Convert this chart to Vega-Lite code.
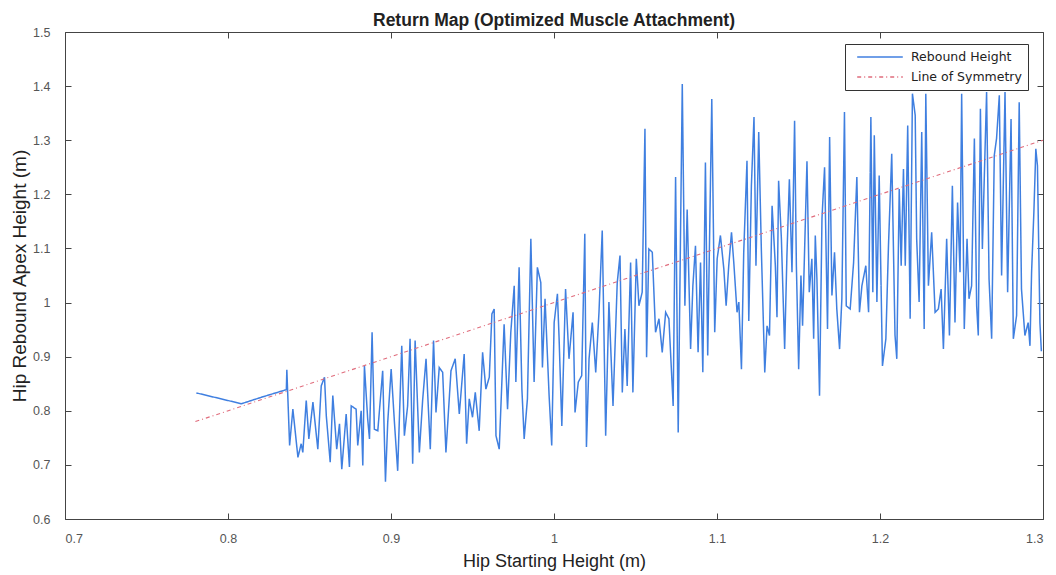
{
  "$schema": "https://vega.github.io/schema/vega-lite/v6.json",
  "width": 978,
  "height": 487,
  "autosize": {"type": "none"},
  "padding": {"left": 65, "top": 32, "right": 13, "bottom": 56},
  "background": "white",
  "title": {"text": "Return Map (Optimized Muscle Attachment)", "font": "Liberation Sans", "fontSize": 17.5, "fontWeight": "bold", "color": "#222222", "offset": -3, "anchor": "middle"},
  "config": {
    "view": {"stroke": "#444444", "strokeWidth": 1},
    "axis": {"grid": false, "labelFont": "Liberation Sans", "labelFontSize": 12.5, "labelColor": "#555555", "titleFont": "Liberation Sans", "titleFontWeight": "normal", "titleColor": "#222222", "domain": false, "ticks": true, "tickColor": "#444444", "tickWidth": 1, "tickOpacity": 1, "tickSize": 6, "offset": -6}
  },
  "datasets": {
    "rebound": [
      {"x":0.7806,"y":0.833,"series":"Rebound Height"},{"x":0.8082,"y":0.813,"series":"Rebound Height"},{"x":0.8205,"y":0.825,"series":"Rebound Height"},{"x":0.8358,"y":0.839,"series":"Rebound Height"},{"x":0.8361,"y":0.876,"series":"Rebound Height"},{"x":0.8378,"y":0.736,"series":"Rebound Height"},{"x":0.8398,"y":0.803,"series":"Rebound Height"},{"x":0.8429,"y":0.714,"series":"Rebound Height"},{"x":0.8449,"y":0.739,"series":"Rebound Height"},{"x":0.8459,"y":0.723,"series":"Rebound Height"},{"x":0.848,"y":0.819,"series":"Rebound Height"},{"x":0.8496,"y":0.748,"series":"Rebound Height"},{"x":0.8521,"y":0.816,"series":"Rebound Height"},{"x":0.8551,"y":0.729,"series":"Rebound Height"},{"x":0.8572,"y":0.846,"series":"Rebound Height"},{"x":0.8592,"y":0.862,"series":"Rebound Height"},{"x":0.8603,"y":0.791,"series":"Rebound Height"},{"x":0.8627,"y":0.705,"series":"Rebound Height"},{"x":0.8643,"y":0.828,"series":"Rebound Height"},{"x":0.8667,"y":0.729,"series":"Rebound Height"},{"x":0.8684,"y":0.776,"series":"Rebound Height"},{"x":0.8698,"y":0.692,"series":"Rebound Height"},{"x":0.8725,"y":0.794,"series":"Rebound Height"},{"x":0.8745,"y":0.696,"series":"Rebound Height"},{"x":0.8756,"y":0.809,"series":"Rebound Height"},{"x":0.8786,"y":0.803,"series":"Rebound Height"},{"x":0.8796,"y":0.736,"series":"Rebound Height"},{"x":0.8817,"y":0.8,"series":"Rebound Height"},{"x":0.8827,"y":0.699,"series":"Rebound Height"},{"x":0.8837,"y":0.883,"series":"Rebound Height"},{"x":0.8857,"y":0.785,"series":"Rebound Height"},{"x":0.8868,"y":0.748,"series":"Rebound Height"},{"x":0.8884,"y":0.945,"series":"Rebound Height"},{"x":0.8898,"y":0.766,"series":"Rebound Height"},{"x":0.8919,"y":0.763,"series":"Rebound Height"},{"x":0.8949,"y":0.874,"series":"Rebound Height"},{"x":0.8966,"y":0.669,"series":"Rebound Height"},{"x":0.898,"y":0.779,"series":"Rebound Height"},{"x":0.9001,"y":0.877,"series":"Rebound Height"},{"x":0.9021,"y":0.779,"series":"Rebound Height"},{"x":0.9041,"y":0.689,"series":"Rebound Height"},{"x":0.9066,"y":0.92,"series":"Rebound Height"},{"x":0.9082,"y":0.754,"series":"Rebound Height"},{"x":0.9102,"y":0.809,"series":"Rebound Height"},{"x":0.9117,"y":0.933,"series":"Rebound Height"},{"x":0.9133,"y":0.702,"series":"Rebound Height"},{"x":0.9148,"y":0.93,"series":"Rebound Height"},{"x":0.9174,"y":0.723,"series":"Rebound Height"},{"x":0.9194,"y":0.819,"series":"Rebound Height"},{"x":0.9215,"y":0.896,"series":"Rebound Height"},{"x":0.9241,"y":0.729,"series":"Rebound Height"},{"x":0.9261,"y":0.93,"series":"Rebound Height"},{"x":0.9276,"y":0.797,"series":"Rebound Height"},{"x":0.9296,"y":0.88,"series":"Rebound Height"},{"x":0.9317,"y":0.871,"series":"Rebound Height"},{"x":0.9337,"y":0.723,"series":"Rebound Height"},{"x":0.9368,"y":0.874,"series":"Rebound Height"},{"x":0.9394,"y":0.896,"series":"Rebound Height"},{"x":0.9419,"y":0.794,"series":"Rebound Height"},{"x":0.9449,"y":0.905,"series":"Rebound Height"},{"x":0.9464,"y":0.739,"series":"Rebound Height"},{"x":0.948,"y":0.822,"series":"Rebound Height"},{"x":0.95,"y":0.788,"series":"Rebound Height"},{"x":0.9517,"y":0.834,"series":"Rebound Height"},{"x":0.9541,"y":0.763,"series":"Rebound Height"},{"x":0.9562,"y":0.908,"series":"Rebound Height"},{"x":0.9582,"y":0.84,"series":"Rebound Height"},{"x":0.9603,"y":0.862,"series":"Rebound Height"},{"x":0.9619,"y":0.979,"series":"Rebound Height"},{"x":0.9633,"y":0.988,"series":"Rebound Height"},{"x":0.9644,"y":0.754,"series":"Rebound Height"},{"x":0.9664,"y":0.729,"series":"Rebound Height"},{"x":0.9694,"y":0.96,"series":"Rebound Height"},{"x":0.9715,"y":0.803,"series":"Rebound Height"},{"x":0.9735,"y":0.945,"series":"Rebound Height"},{"x":0.9756,"y":1.031,"series":"Rebound Height"},{"x":0.9766,"y":0.853,"series":"Rebound Height"},{"x":0.9786,"y":1.065,"series":"Rebound Height"},{"x":0.9803,"y":0.84,"series":"Rebound Height"},{"x":0.9817,"y":0.748,"series":"Rebound Height"},{"x":0.9837,"y":0.822,"series":"Rebound Height"},{"x":0.9858,"y":1.118,"series":"Rebound Height"},{"x":0.9878,"y":0.853,"series":"Rebound Height"},{"x":0.9898,"y":1.065,"series":"Rebound Height"},{"x":0.9919,"y":1.037,"series":"Rebound Height"},{"x":0.9929,"y":0.88,"series":"Rebound Height"},{"x":0.9945,"y":1.007,"series":"Rebound Height"},{"x":0.997,"y":0.828,"series":"Rebound Height"},{"x":0.9986,"y":0.736,"series":"Rebound Height"},{"x":1.0001,"y":0.963,"series":"Rebound Height"},{"x":1.0021,"y":1.016,"series":"Rebound Height"},{"x":1.0031,"y":0.936,"series":"Rebound Height"},{"x":1.0048,"y":0.772,"series":"Rebound Height"},{"x":1.0071,"y":1.025,"series":"Rebound Height"},{"x":1.0092,"y":0.896,"series":"Rebound Height"},{"x":1.0117,"y":0.982,"series":"Rebound Height"},{"x":1.0129,"y":0.797,"series":"Rebound Height"},{"x":1.0149,"y":0.853,"series":"Rebound Height"},{"x":1.017,"y":0.865,"series":"Rebound Height"},{"x":1.0189,"y":1.127,"series":"Rebound Height"},{"x":1.0199,"y":0.733,"series":"Rebound Height"},{"x":1.0215,"y":0.896,"series":"Rebound Height"},{"x":1.0235,"y":0.963,"series":"Rebound Height"},{"x":1.0256,"y":0.871,"series":"Rebound Height"},{"x":1.0276,"y":0.982,"series":"Rebound Height"},{"x":1.0296,"y":1.133,"series":"Rebound Height"},{"x":1.0317,"y":0.754,"series":"Rebound Height"},{"x":1.0337,"y":1.001,"series":"Rebound Height"},{"x":1.0362,"y":0.809,"series":"Rebound Height"},{"x":1.0388,"y":1.037,"series":"Rebound Height"},{"x":1.0405,"y":1.087,"series":"Rebound Height"},{"x":1.0419,"y":0.834,"series":"Rebound Height"},{"x":1.0435,"y":0.951,"series":"Rebound Height"},{"x":1.0449,"y":0.846,"series":"Rebound Height"},{"x":1.047,"y":1.074,"series":"Rebound Height"},{"x":1.0484,"y":0.834,"series":"Rebound Height"},{"x":1.0505,"y":1.081,"series":"Rebound Height"},{"x":1.0521,"y":0.994,"series":"Rebound Height"},{"x":1.0541,"y":1.019,"series":"Rebound Height"},{"x":1.0558,"y":1.321,"series":"Rebound Height"},{"x":1.0568,"y":0.899,"series":"Rebound Height"},{"x":1.0582,"y":1.099,"series":"Rebound Height"},{"x":1.0603,"y":1.093,"series":"Rebound Height"},{"x":1.0623,"y":0.945,"series":"Rebound Height"},{"x":1.0644,"y":0.97,"series":"Rebound Height"},{"x":1.0664,"y":0.908,"series":"Rebound Height"},{"x":1.0685,"y":0.982,"series":"Rebound Height"},{"x":1.0705,"y":0.97,"series":"Rebound Height"},{"x":1.0731,"y":0.809,"series":"Rebound Height"},{"x":1.0746,"y":1.232,"series":"Rebound Height"},{"x":1.0762,"y":0.76,"series":"Rebound Height"},{"x":1.0787,"y":1.404,"series":"Rebound Height"},{"x":1.0803,"y":0.994,"series":"Rebound Height"},{"x":1.0817,"y":1.172,"series":"Rebound Height"},{"x":1.0838,"y":0.914,"series":"Rebound Height"},{"x":1.0852,"y":1.031,"series":"Rebound Height"},{"x":1.0868,"y":1.105,"series":"Rebound Height"},{"x":1.0884,"y":0.908,"series":"Rebound Height"},{"x":1.0899,"y":1.074,"series":"Rebound Height"},{"x":1.0913,"y":0.871,"series":"Rebound Height"},{"x":1.0929,"y":1.259,"series":"Rebound Height"},{"x":1.0943,"y":0.902,"series":"Rebound Height"},{"x":1.0968,"y":1.376,"series":"Rebound Height"},{"x":1.0986,"y":0.945,"series":"Rebound Height"},{"x":1.1001,"y":1.081,"series":"Rebound Height"},{"x":1.1021,"y":1.124,"series":"Rebound Height"},{"x":1.1042,"y":1.062,"series":"Rebound Height"},{"x":1.1056,"y":0.994,"series":"Rebound Height"},{"x":1.1072,"y":1.068,"series":"Rebound Height"},{"x":1.1089,"y":1.13,"series":"Rebound Height"},{"x":1.1103,"y":1.074,"series":"Rebound Height"},{"x":1.1123,"y":0.982,"series":"Rebound Height"},{"x":1.1134,"y":1.001,"series":"Rebound Height"},{"x":1.115,"y":0.877,"series":"Rebound Height"},{"x":1.1164,"y":1.093,"series":"Rebound Height"},{"x":1.1184,"y":1.262,"series":"Rebound Height"},{"x":1.1195,"y":0.966,"series":"Rebound Height"},{"x":1.1211,"y":1.216,"series":"Rebound Height"},{"x":1.1227,"y":1.343,"series":"Rebound Height"},{"x":1.1239,"y":1.068,"series":"Rebound Height"},{"x":1.1256,"y":1.315,"series":"Rebound Height"},{"x":1.1272,"y":1.099,"series":"Rebound Height"},{"x":1.1293,"y":0.871,"series":"Rebound Height"},{"x":1.1307,"y":0.957,"series":"Rebound Height"},{"x":1.1322,"y":0.939,"series":"Rebound Height"},{"x":1.1338,"y":1.179,"series":"Rebound Height"},{"x":1.1358,"y":1.068,"series":"Rebound Height"},{"x":1.1368,"y":0.973,"series":"Rebound Height"},{"x":1.1378,"y":1.225,"series":"Rebound Height"},{"x":1.1395,"y":1.118,"series":"Rebound Height"},{"x":1.1415,"y":0.914,"series":"Rebound Height"},{"x":1.1429,"y":1.087,"series":"Rebound Height"},{"x":1.1444,"y":1.228,"series":"Rebound Height"},{"x":1.146,"y":1.056,"series":"Rebound Height"},{"x":1.1476,"y":1.336,"series":"Rebound Height"},{"x":1.1487,"y":1.068,"series":"Rebound Height"},{"x":1.1501,"y":0.877,"series":"Rebound Height"},{"x":1.1515,"y":1.05,"series":"Rebound Height"},{"x":1.1525,"y":0.957,"series":"Rebound Height"},{"x":1.1552,"y":1.261,"series":"Rebound Height"},{"x":1.1566,"y":1.019,"series":"Rebound Height"},{"x":1.1582,"y":1.081,"series":"Rebound Height"},{"x":1.1593,"y":0.933,"series":"Rebound Height"},{"x":1.1603,"y":1.124,"series":"Rebound Height"},{"x":1.1613,"y":1.044,"series":"Rebound Height"},{"x":1.1629,"y":0.828,"series":"Rebound Height"},{"x":1.1644,"y":1.155,"series":"Rebound Height"},{"x":1.166,"y":1.25,"series":"Rebound Height"},{"x":1.1678,"y":0.951,"series":"Rebound Height"},{"x":1.1691,"y":1.306,"series":"Rebound Height"},{"x":1.1705,"y":1.013,"series":"Rebound Height"},{"x":1.1721,"y":1.093,"series":"Rebound Height"},{"x":1.1735,"y":0.988,"series":"Rebound Height"},{"x":1.1752,"y":0.914,"series":"Rebound Height"},{"x":1.1766,"y":1.007,"series":"Rebound Height"},{"x":1.1782,"y":1.352,"series":"Rebound Height"},{"x":1.1793,"y":0.994,"series":"Rebound Height"},{"x":1.1817,"y":0.988,"series":"Rebound Height"},{"x":1.1838,"y":1.074,"series":"Rebound Height"},{"x":1.1858,"y":1.232,"series":"Rebound Height"},{"x":1.1874,"y":0.982,"series":"Rebound Height"},{"x":1.1889,"y":1.031,"series":"Rebound Height"},{"x":1.1913,"y":1.068,"series":"Rebound Height"},{"x":1.193,"y":0.982,"series":"Rebound Height"},{"x":1.1944,"y":1.343,"series":"Rebound Height"},{"x":1.1956,"y":1.019,"series":"Rebound Height"},{"x":1.1965,"y":1.309,"series":"Rebound Height"},{"x":1.1981,"y":1.001,"series":"Rebound Height"},{"x":1.1995,"y":1.235,"series":"Rebound Height"},{"x":1.2015,"y":0.883,"series":"Rebound Height"},{"x":1.2036,"y":0.933,"series":"Rebound Height"},{"x":1.2052,"y":1.105,"series":"Rebound Height"},{"x":1.2072,"y":1.275,"series":"Rebound Height"},{"x":1.2092,"y":0.94,"series":"Rebound Height"},{"x":1.2103,"y":0.896,"series":"Rebound Height"},{"x":1.2118,"y":1.21,"series":"Rebound Height"},{"x":1.213,"y":1.068,"series":"Rebound Height"},{"x":1.2144,"y":1.247,"series":"Rebound Height"},{"x":1.2155,"y":1.068,"series":"Rebound Height"},{"x":1.217,"y":1.327,"series":"Rebound Height"},{"x":1.2185,"y":0.97,"series":"Rebound Height"},{"x":1.2199,"y":1.386,"series":"Rebound Height"},{"x":1.2216,"y":1.346,"series":"Rebound Height"},{"x":1.2225,"y":1.118,"series":"Rebound Height"},{"x":1.224,"y":1.001,"series":"Rebound Height"},{"x":1.2256,"y":1.315,"series":"Rebound Height"},{"x":1.2271,"y":0.951,"series":"Rebound Height"},{"x":1.2281,"y":1.386,"series":"Rebound Height"},{"x":1.2297,"y":1.031,"series":"Rebound Height"},{"x":1.2317,"y":1.13,"series":"Rebound Height"},{"x":1.2338,"y":0.982,"series":"Rebound Height"},{"x":1.2358,"y":0.988,"series":"Rebound Height"},{"x":1.2375,"y":1.025,"series":"Rebound Height"},{"x":1.2389,"y":0.914,"series":"Rebound Height"},{"x":1.2409,"y":1.118,"series":"Rebound Height"},{"x":1.2426,"y":0.939,"series":"Rebound Height"},{"x":1.2444,"y":1.216,"series":"Rebound Height"},{"x":1.246,"y":0.963,"series":"Rebound Height"},{"x":1.2476,"y":1.185,"series":"Rebound Height"},{"x":1.2491,"y":1.056,"series":"Rebound Height"},{"x":1.2501,"y":1.386,"series":"Rebound Height"},{"x":1.2517,"y":0.951,"series":"Rebound Height"},{"x":1.2534,"y":1.118,"series":"Rebound Height"},{"x":1.2546,"y":1.007,"series":"Rebound Height"},{"x":1.2562,"y":1.031,"series":"Rebound Height"},{"x":1.2579,"y":1.303,"series":"Rebound Height"},{"x":1.2593,"y":0.994,"series":"Rebound Height"},{"x":1.2603,"y":0.939,"series":"Rebound Height"},{"x":1.2616,"y":1.358,"series":"Rebound Height"},{"x":1.2628,"y":1.099,"series":"Rebound Height"},{"x":1.2654,"y":1.389,"series":"Rebound Height"},{"x":1.2669,"y":1.044,"series":"Rebound Height"},{"x":1.2685,"y":0.933,"series":"Rebound Height"},{"x":1.2701,"y":1.272,"series":"Rebound Height"},{"x":1.2715,"y":1.303,"series":"Rebound Height"},{"x":1.2732,"y":1.383,"series":"Rebound Height"},{"x":1.2746,"y":1.05,"series":"Rebound Height"},{"x":1.2767,"y":1.389,"series":"Rebound Height"},{"x":1.2783,"y":1.019,"series":"Rebound Height"},{"x":1.2804,"y":1.339,"series":"Rebound Height"},{"x":1.2818,"y":0.933,"series":"Rebound Height"},{"x":1.2838,"y":0.976,"series":"Rebound Height"},{"x":1.2854,"y":1.37,"series":"Rebound Height"},{"x":1.2868,"y":1.025,"series":"Rebound Height"},{"x":1.2889,"y":0.939,"series":"Rebound Height"},{"x":1.2909,"y":0.963,"series":"Rebound Height"},{"x":1.292,"y":0.92,"series":"Rebound Height"},{"x":1.293,"y":1.056,"series":"Rebound Height"},{"x":1.2944,"y":1.167,"series":"Rebound Height"},{"x":1.2956,"y":1.284,"series":"Rebound Height"},{"x":1.2966,"y":1.253,"series":"Rebound Height"},{"x":1.2981,"y":0.963,"series":"Rebound Height"},{"x":1.299,"y":0.91,"series":"Rebound Height"}
    ],
    "symmetry": [
      {"x":0.78,"y":0.78,"series":"Line of Symmetry"},
      {"x":1.3,"y":1.3,"series":"Line of Symmetry"}
    ]
  },
  "layer": [
    {
      "data": {"name": "rebound"},
      "mark": {"type": "line", "strokeWidth": 1.5},
      "encoding": {
        "x": {"field": "x", "type": "quantitative", "scale": {"domain": [0.7, 1.3], "nice": false, "zero": false},
              "axis": {"orient": "bottom", "values": [0.7, 0.8, 0.9, 1, 1.1, 1.2, 1.3], "format": "~g", "ticks": true, "tickSize": 6, "tickColor": "#444444", "labelPadding": 13, "title": "Hip Starting Height (m)", "titleFontSize": 18, "titlePadding": 8}},
        "y": {"field": "y", "type": "quantitative", "scale": {"domain": [0.6, 1.5], "nice": false, "zero": false},
              "axis": {"orient": "left", "values": [0.6, 0.7, 0.8, 0.9, 1, 1.1, 1.2, 1.3, 1.4, 1.5], "format": "~g", "ticks": true, "tickSize": 6, "tickColor": "#444444", "labelPadding": 15, "title": "Hip Rebound Apex Height (m)", "titleFontSize": 19, "titlePadding": 3}},
        "color": {"field": "series", "type": "nominal",
                  "scale": {"domain": ["Rebound Height", "Line of Symmetry"], "range": ["#3f7fe0", "#e06c7c"]},
                  "legend": {"orient": "none", "legendX": 780, "legendY": 12, "title": null, "strokeColor": "#333333", "fillColor": "white", "padding": 6, "rowPadding": 6, "labelFont": "DejaVu Sans", "labelFontSize": 12.5, "labelColor": "#222222", "symbolType": "M-3.8,0H3.8", "symbolSize": 144, "symbolStrokeWidth": 1.3, "symbolOffset": 22, "labelOffset": 24}},
        "strokeDash": {"field": "series", "type": "nominal",
                       "scale": {"domain": ["Rebound Height", "Line of Symmetry"], "range": [[1, 0], [4, 3, 1, 3]]},
                       "legend": {"orient": "none", "legendX": 780, "legendY": 12, "title": null, "strokeColor": "#333333", "fillColor": "white", "padding": 6, "rowPadding": 6, "labelFont": "DejaVu Sans", "labelFontSize": 12.5, "labelColor": "#222222", "symbolType": "M-3.8,0H3.8", "symbolSize": 144, "symbolStrokeWidth": 1.3, "symbolOffset": 22, "labelOffset": 24}}
      }
    },
    {
      "data": {"name": "symmetry"},
      "mark": {"type": "line", "strokeWidth": 1.1},
      "encoding": {
        "x": {"field": "x", "type": "quantitative", "scale": {"domain": [0.7, 1.3], "nice": false, "zero": false},
              "axis": {"orient": "top", "values": [0.7, 0.8, 0.9, 1, 1.1, 1.2, 1.3], "ticks": true, "tickSize": 6, "tickColor": "#444444", "labels": false, "title": null}},
        "y": {"field": "y", "type": "quantitative", "scale": {"domain": [0.6, 1.5], "nice": false, "zero": false},
              "axis": {"orient": "right", "values": [0.6, 0.7, 0.8, 0.9, 1, 1.1, 1.2, 1.3, 1.4, 1.5], "ticks": true, "tickSize": 6, "tickColor": "#444444", "labels": false, "title": null}},
        "color": {"field": "series", "type": "nominal"},
        "strokeDash": {"field": "series", "type": "nominal"}
      }
    }
  ],
  "resolve": {"axis": {"x": "independent", "y": "independent"}}
}
